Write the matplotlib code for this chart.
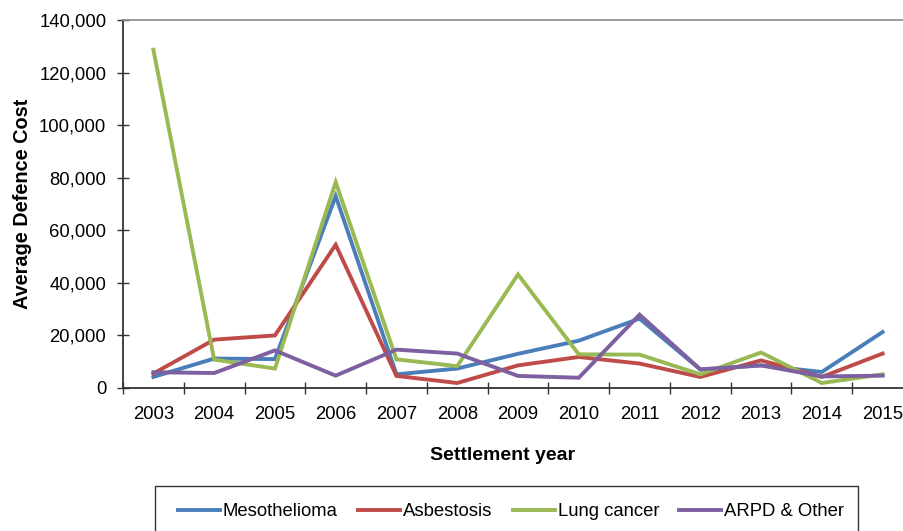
import matplotlib
matplotlib.use("Agg")
import matplotlib.pyplot as plt
from matplotlib.patches import Rectangle
from matplotlib.ticker import FuncFormatter, FixedLocator, MultipleLocator

years = ["2003", "2004", "2005", "2006", "2007", "2008", "2009", "2010", "2011", "2012", "2013", "2014", "2015"]
mesothelioma = [4200, 11200, 11000, 73000, 5200, 7400, 13000, 18000, 26400, 7000, 8600, 6100, 21300]
asbestosis = [5500, 18400, 20000, 54500, 4600, 1900, 8600, 11800, 9300, 4200, 10500, 4200, 13100]
lung_cancer = [128700, 10800, 7400, 78300, 10900, 8300, 43200, 12800, 12700, 5200, 13500, 1900, 5200]
arpd_other = [6000, 5700, 14300, 4700, 14600, 13100, 4600, 3900, 27900, 7100, 8600, 4400, 4700]
series_names = ["Mesothelioma", "Asbestosis", "Lung cancer", "ARPD & Other"]
colors = ["#4A7EBB", "#BE4B48", "#98B954", "#7D60A0"]

plt.rcParams['font.family'] = ['Liberation Sans', 'DejaVu Sans']

W, H = 904, 531
FS = 13.3
fig = plt.figure(figsize=(W / 100, H / 100), dpi=100)
left, right, top, bottom = 123, 913, 20, 388
ax = fig.add_axes([left / W, 1 - bottom / H, (right - left) / W, (bottom - top) / H])

x = list(range(len(years)))
lines = []
for vals, name, c in zip([mesothelioma, asbestosis, lung_cancer, arpd_other], series_names, colors):
    ln, = ax.plot(x, vals, color=c, lw=2.8, label=name, solid_joinstyle='miter', clip_on=False)
    lines.append(ln)

ax.set_xlim(-0.5, len(years) - 0.5)
ax.set_ylim(0, 140000)
ax.yaxis.set_major_locator(MultipleLocator(20000))
ax.yaxis.set_major_formatter(FuncFormatter(lambda v, p: f"{int(v):,}"))
ax.set_xticks(x)
ax.set_xticklabels(years)
ax.xaxis.set_minor_locator(FixedLocator([i - 0.5 for i in range(len(years) + 1)]))
ax.tick_params(axis='x', which='major', length=0, labelsize=FS, pad=13, colors='#000000')
ax.tick_params(axis='x', which='minor', length=8, width=1, direction='inout', color='#333333')
ax.tick_params(axis='y', length=8, width=1, direction='inout', labelsize=FS, color='#333333', pad=8)

for s in ['left', 'bottom']:
    ax.spines[s].set_color('#333333')
    ax.spines[s].set_linewidth(1.3)
ax.spines['top'].set_color('#8c8c8c')
ax.spines['top'].set_linewidth(1.2)
ax.spines['right'].set_visible(False)

ax.set_ylabel("Average Defence Cost", fontsize=14.3, fontweight='bold', labelpad=5)
fig.text(503 / W, 1 - 455 / H, "Settlement year", fontsize=14.0, fontweight='bold', ha='center', va='center')

# legend frame (extends beyond bottom of figure)
fig.patches.append(Rectangle((155 / W, -0.05), (858 - 155) / W, (1 - 486 / H) + 0.05,
                             transform=fig.transFigure, fill=False, edgecolor='#333333', lw=1.0))
fig.legend(handles=lines, loc='center left', bbox_to_anchor=(178 / W, 1 - 512 / H), ncol=4,
           frameon=False, fontsize=FS, handlelength=2.27, handletextpad=0.16, columnspacing=1.1,
           borderaxespad=0, borderpad=0)

fig.savefig("out.png", dpi=100)
